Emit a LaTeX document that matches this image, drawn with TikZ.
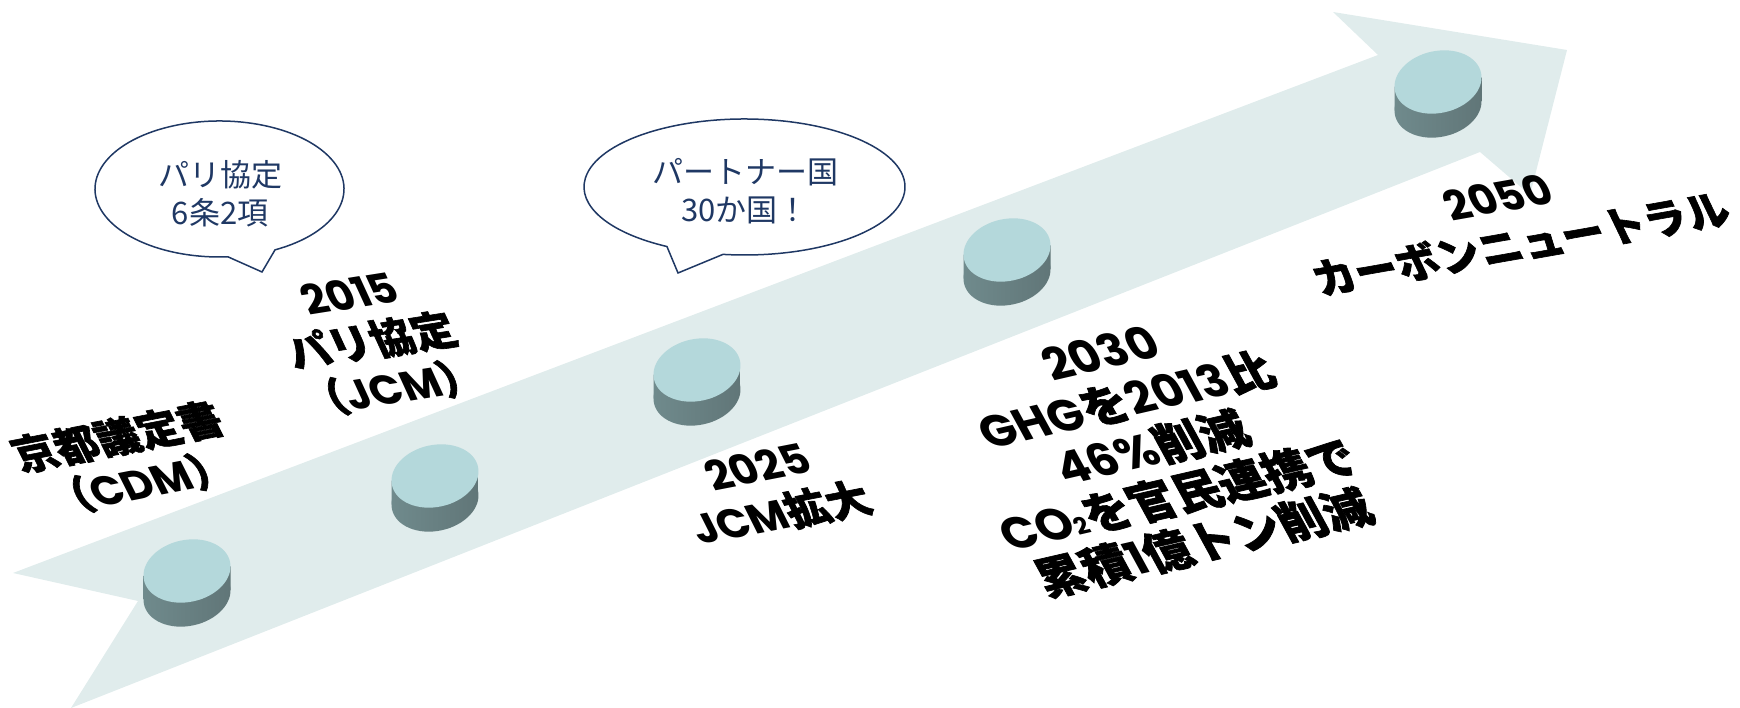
\documentclass[tikz,border=0pt]{standalone}
\usepackage{fontspec}
\newfontfamily\cjk{Noto Sans CJK JP}[BoldFeatures={FakeBold=1.5}]
\newfontfamily\lat{Poppins}
\usepackage{tikz}

\definecolor{band}{HTML}{E0ECEC}
\definecolor{navy}{HTML}{1F3864}
\definecolor{disctop}{HTML}{B4D8DB}
\definecolor{discleft}{HTML}{708B8D}
\definecolor{discmid}{HTML}{465354}
\definecolor{discright}{HTML}{607577}

\begin{document}
\begin{tikzpicture}[x=1pt,y=1pt,
    disc/.pic={
        \shade[left color=discleft,middle color=discmid,right color=discright]
            (-43.5,-4.6) -- (-43.5,-28.6) -- (43.5,-19.4) -- (43.5,4.6) -- cycle;
        \shade[left color=discleft,middle color=discmid,right color=discright,
            yshift=-24pt,rotate=12] (0,0) ellipse (44 and 31);
        \fill[disctop,rotate=12] (0,0) ellipse (44 and 31);
    },
    milestone/.style={font=\cjk\bfseries\fontsize{42}{50}\selectfont,align=center,
        rotate=#1,xslant=-0.28},
    milestone/.default=11,
    bubble/.style={draw=navy,line width=1.5pt,fill=white},
    bubtext/.style={font=\cjk\fontsize{31}{38}\selectfont,text=navy,align=center}]
    \useasboundingbox (0,0) rectangle (1740,708);
    \fill[band] (13,135) -- (1378,653) -- (1333,696) -- (1567,658)
        -- (1530,513) -- (1480,556) -- (71,0) -- (138,107) -- cycle;
    \coordinate (D1) at (187,137);
    \coordinate (D2) at (435,232);
    \coordinate (D3) at (697,338);
    \coordinate (D4) at (1007,458);
    \coordinate (D5) at (1438,626);
    \pic at (D1) {disc};
    \pic at (D2) {disc};
    \pic at (D3) {disc};
    \pic at (D4) {disc};
    \pic at (D5) {disc};
    \begin{scope}[shift={(219.5,519)}]
        \draw[bubble] (296.5:124.5 and 68)
            arc[start angle=296.5,end angle=633.9,x radius=124.5,y radius=68]
            -- (42.5,-83) -- cycle;
    \end{scope}
    \begin{scope}[shift={(744.5,521)}]
        \draw[bubble] (262.3:160.5 and 68)
            arc[start angle=262.3,end angle=601.1,x radius=160.5,y radius=68]
            -- (-66.5,-86) -- cycle;
    \end{scope}
    \node[bubtext] (art6) at (220,514.5) {パリ協定\\6条2項};
    \node[bubtext] (partner) at (745,516.5) {パートナー国\\30か国！};
    \node[milestone] (kyoto) at (129,248) {京都議定書\\（{\lat CDM}）};
    \node[milestone=9] (paris) at (372,365) {{\lat 2015}\\パリ協定\\（{\lat JCM}）};
    \node[milestone] (jcm) at (770,216) {{\lat 2025}\\{\lat JCM}拡大};
    \node[milestone=13,font=\cjk\bfseries\fontsize{46}{52}\selectfont] (goal) at (1153,258)
        {{\lat 2030}\\{\lat GHG}を{\lat 2013}比\\{\lat 46\%}削減\\{\lat CO{\fontsize{24}{24}\selectfont 2}}を官民連携で\\累積{\lat 1}億トン削減};
    \node[milestone=10] (neutral) at (1510,486) {{\lat 2050}\\カーボンニュートラル};
\end{tikzpicture}
\end{document}
